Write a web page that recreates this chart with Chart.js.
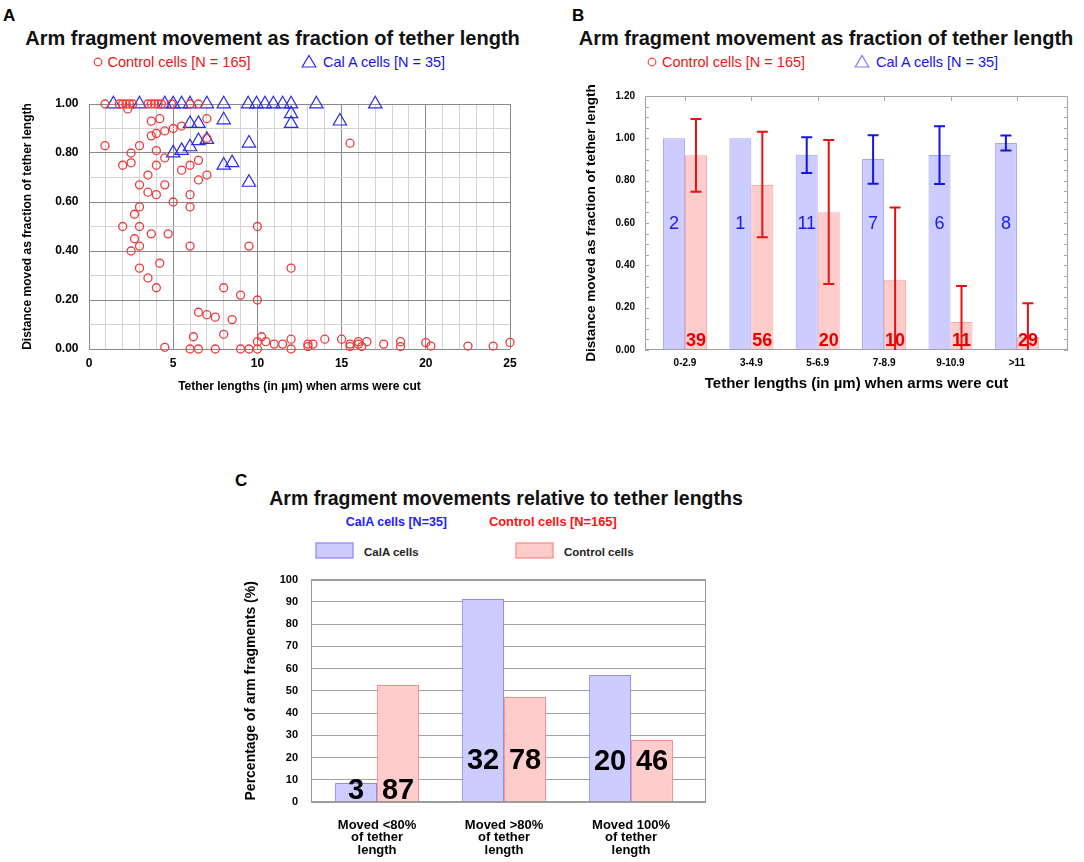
<!DOCTYPE html>
<html><head><meta charset="utf-8">
<script src="https://cdn.jsdelivr.net/npm/chart.js@4.4.1/dist/chart.umd.min.js"></script>
<style>
html,body{margin:0;padding:0;background:#fff;}
body{width:1084px;height:862px;position:relative;overflow:hidden;font-family:'Liberation Sans',Arial,sans-serif;}
canvas{position:absolute;}
.t{position:absolute;white-space:nowrap;line-height:1;transform:translateY(-50%);font-family:'Liberation Sans',Arial,sans-serif;}
.c{transform:translate(-50%,-50%);}
</style></head><body>
<svg style="position:absolute;left:0;top:0" width="1084" height="862">
  <circle cx="98" cy="62" r="3.8" fill="none" stroke="#f03a3a" stroke-width="1.2"/>
  <polygon points="309,55.5 315.8,67 302.2,67" fill="none" stroke="#2b2be8" stroke-width="1.2"/>
  <circle cx="652" cy="62" r="3.8" fill="none" stroke="#f05050" stroke-width="1.2"/>
  <polygon points="862,55.5 868.8,67 855.2,67" fill="none" stroke="#7a7aff" stroke-width="1.2"/>
  <rect x="316" y="543" width="37" height="15" fill="#ccccff" stroke="#8c8cff" stroke-width="1.3"/>
  <rect x="516" y="543" width="37" height="15" fill="#ffcccc" stroke="#ff8c8c" stroke-width="1.3"/>
</svg>
<div class="t" style="left:3px;top:15px;font-weight:bold;font-size:17px;">A</div>
<div class="t c" style="left:272.5px;top:38px;font-weight:bold;font-size:20px;color:#111;">Arm fragment movement as fraction of tether length</div>
<div class="t" style="left:107.5px;top:62px;font-size:14.5px;color:#f01414;">Control cells [N = 165]</div>
<div class="t" style="left:323px;top:62px;font-size:14.5px;color:#1414e8;">Cal A cells [N = 35]</div>

<div class="t" style="left:572px;top:15px;font-weight:bold;font-size:17px;">B</div>
<div class="t c" style="left:826px;top:38px;font-weight:bold;font-size:20px;color:#111;">Arm fragment movement as fraction of tether length</div>
<div class="t" style="left:662px;top:62px;font-size:14.5px;color:#f01414;">Control cells [N = 165]</div>
<div class="t" style="left:876px;top:62px;font-size:14.5px;color:#1414e8;">Cal A cells [N = 35]</div>

<div class="t" style="left:235px;top:480px;font-weight:bold;font-size:17px;">C</div>
<div class="t c" style="left:506px;top:499px;font-weight:bold;font-size:19.5px;color:#111;">Arm fragment movements relative to tether lengths</div>
<div class="t" style="left:345.7px;top:522px;font-weight:bold;font-size:12.5px;color:#2020ff;">CalA cells [N=35]</div>
<div class="t" style="left:489px;top:522px;font-weight:bold;font-size:12.8px;color:#ff1010;">Control cells [N=165]</div>
<div class="t" style="left:364px;top:553px;font-weight:bold;font-size:11.5px;color:#222;">CalA cells</div>
<div class="t" style="left:564px;top:553px;font-weight:bold;font-size:11.5px;color:#222;">Control cells</div>

<canvas id="cA" width="540" height="320" style="left:0px;top:80px;"></canvas>
<canvas id="cB" width="524" height="320" style="left:560px;top:80px;"></canvas>
<canvas id="cC" width="520" height="302" style="left:220px;top:560px;"></canvas>

<script>
// ---------- Panel A data (scatter) ----------
const aControlX = [0.95,1.8,2.0,2.2,2.4,2.6,3.5,3.7,3.9,4.1,4.3,4.9,6.0,6.5,2.3,
  3.7,4.2,7.0,3.7,4.0,4.5,5.0,5.5,7.0,0.95,3.0,2.5,4.0,4.5,2.0,2.5,4.0,5.5,6.0,6.5,3.5,7.0,6.5,3.0,4.5,3.5,4.0,6.0,5.0,6.0,3.0,2.7,15.5,
  2.0,3.0,10.0,3.7,4.7,2.7,3.0,6.0,9.5,2.5,4.2,3.0,12.0,3.5,4.0,8.0,9.0,10.0,6.5,7.0,7.5,8.5,8.0,6.2,10.25,10.0,10.5,11.0,11.5,4.5,
  6.0,6.5,7.5,9.0,9.5,10.0,12.0,12.0,13.0,13.0,13.3,14.0,15.0,15.5,15.5,16.0,16.0,16.2,16.5,17.5,18.5,18.5,20.0,20.3,22.5,24.0,25.0];
const aControlY = [1,1,1,1,1,1,1,1,1,1,1,1,1,1,0.98,
  0.93,0.94,0.94,0.87,0.88,0.89,0.90,0.91,0.86,0.83,0.83,0.80,0.81,0.78,0.75,0.76,0.75,0.73,0.75,0.77,0.71,0.71,0.69,0.67,0.67,0.64,0.63,0.63,0.60,0.58,0.58,0.55,0.84,
  0.50,0.50,0.50,0.47,0.47,0.45,0.42,0.42,0.42,0.40,0.35,0.33,0.33,0.29,0.25,0.25,0.22,0.20,0.15,0.14,0.13,0.12,0.06,0.05,0.05,0.03,0.03,0.02,0.02,0.007,
  0,0,0,0,0,0,0.04,0,0.02,0.01,0.02,0.04,0.04,0.02,0.01,0.03,0.02,0.01,0.03,0.02,0.03,0.01,0.026,0.012,0.012,0.012,0.027];
const aCalAX = [1.45,3.0,4.5,5.0,5.5,6.0,7.0,8.0,9.45,9.95,10.45,10.95,11.5,12.0,13.5,17.0,
  12.0,12.0,8.0,6.0,6.5,14.9,7.0,6.5,6.0,5.5,5.0,9.5,8.0,8.5,9.5];
const aCalAY = [1,1,1,1,1,1,1,1,1,1,1,1,1,1,1,1,
  0.96,0.92,0.935,0.92,0.92,0.93,0.855,0.85,0.825,0.81,0.80,0.84,0.75,0.76,0.68];

// ---------- Panel B data (bars with error bars) ----------
const bCategories = ['0-2.9','3-4.9','5-6.9','7-8.9','9-10.9','>11'];
const bCalAMeans = [1.00,1.00,0.923,0.902,0.921,0.978];
const bCalALow   = [null,null,0.836,0.786,0.784,0.942];
const bCalAHigh  = [null,null,1.005,1.014,1.057,1.013];
const bControlMeans = [0.92,0.78,0.651,0.332,0.132,0.062];
const bControlLow   = [0.748,0.533,0.312,-0.01,-0.04,-0.10];
const bControlHigh  = [1.091,1.031,0.992,0.673,0.302,0.221];
const bCalACounts    = [2,1,11,7,6,8];
const bControlCounts = [39,56,20,10,11,29];

// ---------- Panel C data ----------
const cCategories = [['Moved <80%','of tether','length'],['Moved >80%','of tether','length'],['Moved 100%','of tether','length']];
const cCalAPercent    = [8.6,91.4,57.1];
const cControlPercent = [52.7,47.3,27.9];
const cCalACounts    = [3,32,20];
const cControlCounts = [87,78,46];

const FF = "'Liberation Sans', Arial, sans-serif";
Chart.defaults.font.family = FF;
Chart.defaults.color = '#000';
Chart.defaults.animation = false;
Chart.defaults.events = [];
Chart.defaults.plugins.legend.display = false;
Chart.defaults.plugins.tooltip.enabled = false;

function framePlugin(color){
  return {id:'frame', afterDatasetsDraw(chart){
    const {ctx, chartArea:a} = chart;
    ctx.save(); ctx.strokeStyle = color; ctx.lineWidth = 1;
    ctx.strokeRect(Math.round(a.left)+0.5, Math.round(a.top)+0.5, Math.round(a.right-a.left)-1, Math.round(a.bottom-a.top)-1);
    ctx.restore();
  }};
}

// ---------- Chart A ----------
new Chart(document.getElementById('cA'), {
  type:'scatter',
  data:{datasets:[
    {data:aControlX.map((x,i)=>({x:x,y:aControlY[i]})), pointStyle:'circle', radius:4.0, borderColor:'#f03a3a', backgroundColor:'rgba(0,0,0,0)', borderWidth:1.3, clip:false},
    {data:aCalAX.map((x,i)=>({x:x,y:aCalAY[i]})), pointStyle:'triangle', radius:7.7, borderColor:'#2b2be8', backgroundColor:'rgba(0,0,0,0)', borderWidth:1.2, clip:false}
  ]},
  options:{
    responsive:false, animation:false,
    layout:{padding:{left:0,right:30,top:24,bottom:0}},
    scales:{
      x:{type:'linear', min:0, max:25, afterFit(s){s.height=51;},
        ticks:{stepSize:1, autoSkip:false, maxRotation:0, padding:7, font:{size:12,weight:'bold'}, color:'#000', callback:v=> (Math.round(v)%5===0 ? String(Math.round(v)) : '')},
        grid:{drawTicks:false, lineWidth:1, color:c=> (c.tick && Math.round(c.tick.value)%5===0) ? '#8a8a8a' : '#d4d4d4'},
        border:{display:false},
        title:{display:true, text:'Tether lengths (in µm) when arms were cut', font:{size:12,weight:'bold'}, color:'#000', padding:{top:0,bottom:6}}
      },
      y:{min:0, max:1, afterFit(s){s.width=89;},
        ticks:{stepSize:0.1, padding:10.5, font:{size:12,weight:'bold'}, color:'#000', callback:v=> (Math.round(v*10)%2===0 ? v.toFixed(2) : '')},
        grid:{drawTicks:false, lineWidth:1, color:c=> (c.tick && Math.round(c.tick.value*10)%2===0) ? '#8a8a8a' : '#d4d4d4'},
        border:{display:false},
        title:{display:true, text:'Distance moved as fraction of tether length', font:{size:12,weight:'bold'}, color:'#000', padding:{top:20,bottom:0}}
      }
    }
  }
});

// ---------- Chart B ----------
const bDecor = {id:'bDecor', afterDatasetsDraw(chart){
  const {ctx, chartArea:a, scales:{x, y}} = chart;
  ctx.save();
  ctx.strokeStyle = '#a8a8a8'; ctx.lineWidth = 1;
  for (let k = 0; k <= 24; k++) {
    const py = Math.round(y.getPixelForValue(k*0.05)) + 0.5;
    ctx.beginPath(); ctx.moveTo(a.left, py); ctx.lineTo(a.left+4, py); ctx.moveTo(a.right, py); ctx.lineTo(a.right-4, py); ctx.stroke();
  }
  bCategories.forEach((_, i) => {
    const px = Math.round(x.getPixelForValue(i)) + 0.5;
    ctx.beginPath(); ctx.moveTo(px, a.top); ctx.lineTo(px, a.top+5); ctx.stroke();
  });
  ctx.beginPath(); ctx.rect(a.left, a.top, a.right-a.left, a.bottom-a.top); ctx.clip();
  const sets = [[bCalALow, bCalAHigh, '#1515e0'], [bControlLow, bControlHigh, '#e81010']];
  sets.forEach((s, di) => {
    const meta = chart.getDatasetMeta(di);
    meta.data.forEach((el, i) => {
      if (s[0][i] == null) return;
      const yl = y.getPixelForValue(s[0][i]), yh = y.getPixelForValue(s[1][i]);
      ctx.strokeStyle = s[2]; ctx.lineWidth = 2;
      ctx.beginPath();
      ctx.moveTo(el.x, yl); ctx.lineTo(el.x, yh);
      ctx.moveTo(el.x-5.5, yh); ctx.lineTo(el.x+5.5, yh);
      ctx.moveTo(el.x-5.5, yl); ctx.lineTo(el.x+5.5, yl);
      ctx.stroke();
    });
  });
  ctx.restore();
  ctx.save();
  ctx.textAlign = 'center'; ctx.textBaseline = 'middle';
  chart.getDatasetMeta(0).data.forEach((el, i) => {
    ctx.font = "18px " + FF; ctx.fillStyle = '#1a1ae8';
    ctx.fillText(String(bCalACounts[i]), el.x, y.getPixelForValue(0.593));
  });
  chart.getDatasetMeta(1).data.forEach((el, i) => {
    ctx.font = "bold 18px " + FF; ctx.fillStyle = '#e60000';
    ctx.fillText(String(bControlCounts[i]), el.x, y.getPixelForValue(0.042));
  });
  ctx.restore();
}};

new Chart(document.getElementById('cB'), {
  type:'bar',
  data:{datasets:[
    {label:'Cal A cells', data:bCalAMeans.map((v,i)=>({x:i,y:v})), backgroundColor:'#ccccff', borderColor:'#a4a4ff', borderWidth:1, categoryPercentage:0.663, barPercentage:1},
    {label:'Control cells', data:bControlMeans.map((v,i)=>({x:i,y:v})), backgroundColor:'#ffcccc', borderColor:'#ffa6a6', borderWidth:1, categoryPercentage:0.663, barPercentage:1}
  ]},
  options:{
    responsive:false, animation:false,
    layout:{padding:{left:0,right:16,top:13.5,bottom:0}},
    scales:{
      x:{type:'linear', min:-0.602, max:5.77, offset:false,
        afterBuildTicks(s){ s.ticks = bCategories.map((_, i) => ({value:i})); },
        afterFit(s){ s.height = 50; },
        ticks:{padding:7, autoSkip:false, maxRotation:0, font:{size:10,weight:'bold'}, color:'#000', callback:v=> bCategories[Math.round(v)]},
        grid:{display:false, drawTicks:false}, border:{display:false},
        title:{display:true, text:'Tether lengths (in µm) when arms were cut', font:{size:15,weight:'bold'}, color:'#000', padding:{top:0,bottom:7}}
      },
      y:{min:0, max:1.2, afterFit(s){ s.width = 85; },
        ticks:{stepSize:0.2, padding:10, font:{size:10,weight:'bold'}, color:'#000', callback:v=> v.toFixed(2)},
        grid:{display:false, drawTicks:false}, border:{display:false},
        title:{display:true, text:'Distance moved as fraction of tether length', font:{size:13.5,weight:'bold'}, color:'#000', padding:{top:23,bottom:0}}
      }
    }
  },
  plugins:[framePlugin('#a0a0a0'), bDecor]
});

// ---------- Chart C ----------
const cLabelLevels = [5.0, 18.5, 17.8];
const cDecor = {id:'cDecor', afterDatasetsDraw(chart){
  const {ctx, scales:{y}} = chart;
  ctx.save();
  ctx.textAlign = 'center'; ctx.textBaseline = 'middle';
  ctx.font = "bold 29px " + FF; ctx.fillStyle = '#000';
  chart.getDatasetMeta(0).data.forEach((el, i) => ctx.fillText(String(cCalACounts[i]), el.x, y.getPixelForValue(cLabelLevels[i])));
  chart.getDatasetMeta(1).data.forEach((el, i) => ctx.fillText(String(cControlCounts[i]), el.x, y.getPixelForValue(cLabelLevels[i])));
  ctx.restore();
}};

new Chart(document.getElementById('cC'), {
  type:'bar',
  data:{datasets:[
    {label:'CalA cells', data:cCalAPercent.map((v,i)=>({x:i,y:v})), backgroundColor:'#ccccff', borderColor:'#8c8cff', borderWidth:1.3, categoryPercentage:0.661, barPercentage:1},
    {label:'Control cells', data:cControlPercent.map((v,i)=>({x:i,y:v})), backgroundColor:'#ffcccc', borderColor:'#ff8c8c', borderWidth:1.3, categoryPercentage:0.661, barPercentage:1}
  ]},
  options:{
    responsive:false, animation:false,
    layout:{padding:{left:0,right:34,top:15,bottom:0}},
    scales:{
      x:{type:'linear', min:-0.52, max:2.59, offset:false,
        afterBuildTicks(s){ s.ticks = cCategories.map((_, i) => ({value:i})); },
        afterFit(s){ s.height = 60; },
        ticks:{padding:17, autoSkip:false, maxRotation:0, font:{size:13,weight:'bold',lineHeight:0.96}, color:'#000', callback:v=> cCategories[Math.round(v)]},
        grid:{display:false, drawTicks:false}, border:{display:false}
      },
      y:{min:0, max:100, afterFit(s){ s.width = 91; },
        ticks:{stepSize:5, padding:13, font:{size:11,weight:'bold'}, color:'#000', callback:v=> (Math.round(v)%10===0 ? String(Math.round(v)) : '')},
        grid:{drawTicks:false, lineWidth:1, color:c=> (c.tick && Math.round(c.tick.value)%10===0) ? '#a0a0a0' : '#c4c4c4'},
        border:{display:false, dash:c=> (c.tick && Math.round(c.tick.value)%10!==0) ? [2,2] : []},
        title:{display:true, text:'Percentage of arm fragments (%)', font:{size:14,weight:'bold'}, color:'#000', padding:{top:22.6,bottom:0}}
      }
    }
  },
  plugins:[framePlugin('#9a9a9a'), cDecor]
});
</script>
</body></html>
